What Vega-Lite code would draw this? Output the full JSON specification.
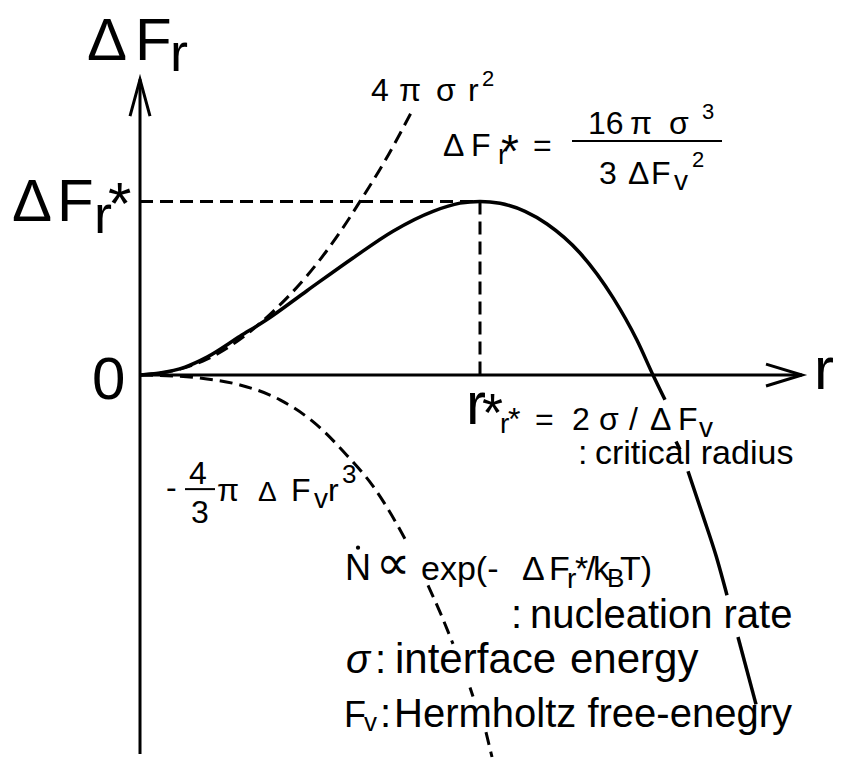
{
  "$schema": "https://vega.github.io/schema/vega-lite/v6.json",
  "width": 856,
  "height": 764,
  "padding": 0,
  "autosize": {"type": "fit", "contains": "padding"},
  "background": "white",
  "config": {"view": {"stroke": null}},
  "encoding": {
    "x": {"field": "x", "type": "quantitative", "axis": null, "scale": {"domain": [-0.4118, 2.1059], "nice": false, "zero": false}},
    "y": {"field": "y", "type": "quantitative", "axis": null, "scale": {"domain": [-2.2057, 2.16], "nice": false, "zero": false}}
  },
  "layer": [
    {
      "description": "axes with open arrow heads",
      "data": {"values": [
        {"g": "x", "o": 1, "x": 0, "y": 0}, {"g": "x", "o": 2, "x": 1.9471, "y": 0},
        {"g": "y", "o": 1, "x": 0, "y": -2.1829}, {"g": "y", "o": 2, "x": 0, "y": 1.7029},
        {"g": "xh", "o": 1, "x": 1.8412, "y": 0.0629}, {"g": "xh", "o": 2, "x": 1.9471, "y": 0}, {"g": "xh", "o": 3, "x": 1.8412, "y": -0.0629},
        {"g": "yh", "o": 1, "x": -0.0294, "y": 1.4914}, {"g": "yh", "o": 2, "x": 0, "y": 1.7029}, {"g": "yh", "o": 3, "x": 0.0294, "y": 1.4914}
      ]},
      "mark": {"type": "line", "color": "black", "strokeWidth": 3, "strokeJoin": "miter"},
      "encoding": {"detail": {"field": "g"}, "order": {"field": "o", "type": "quantitative"}}
    },
    {
      "description": "dashed guides to the barrier top",
      "data": {"values": [
        {"g": "h", "o": 1, "x": 0, "y": 1}, {"g": "h", "o": 2, "x": 1, "y": 1},
        {"g": "v", "o": 1, "x": 1, "y": 1}, {"g": "v", "o": 2, "x": 1, "y": 0}
      ]},
      "mark": {"type": "line", "color": "black", "strokeWidth": 3, "strokeDash": [13, 7]},
      "encoding": {"detail": {"field": "g"}, "order": {"field": "o", "type": "quantitative"}}
    },
    {
      "description": "surface term 4 pi sigma r^2",
      "data": {"values": [
        {"x": 0, "y": 0}, {"x": 0.1176, "y": 0.0343}, {"x": 0.1971, "y": 0.0914},
        {"x": 0.2941, "y": 0.2057}, {"x": 0.3912, "y": 0.3657}, {"x": 0.4912, "y": 0.5714},
        {"x": 0.5882, "y": 0.8229}, {"x": 0.6471, "y": 1.0}, {"x": 0.7206, "y": 1.2343},
        {"x": 0.8029, "y": 1.5314}
      ]},
      "mark": {"type": "line", "color": "black", "strokeWidth": 3, "strokeDash": [13, 7], "interpolate": "monotone"},
      "encoding": {}
    },
    {
      "description": "volume term -4/3 pi dFv r^3",
      "data": {"values": [
        {"s": "a", "x": 0, "y": 0}, {"s": "a", "x": 0.1029, "y": -0.0057}, {"s": "a", "x": 0.1971, "y": -0.0229},
        {"s": "a", "x": 0.2941, "y": -0.0571}, {"s": "a", "x": 0.4118, "y": -0.1429}, {"s": "a", "x": 0.5088, "y": -0.2686},
        {"s": "a", "x": 0.6088, "y": -0.4629}, {"s": "a", "x": 0.6853, "y": -0.64}, {"s": "a", "x": 0.75, "y": -0.84},
        {"s": "a", "x": 0.7853, "y": -0.9657},
        {"s": "b", "x": 0.8471, "y": -1.2114}, {"s": "b", "x": 0.8824, "y": -1.3657}, {"s": "b", "x": 0.9206, "y": -1.5486},
        {"s": "c", "x": 0.9706, "y": -1.8}, {"s": "c", "x": 0.9794, "y": -1.8514},
        {"s": "d", "x": 1.0176, "y": -2.0571}, {"s": "d", "x": 1.0353, "y": -2.2}
      ]},
      "mark": {"type": "line", "color": "black", "strokeWidth": 3, "strokeDash": [13, 7], "interpolate": "monotone"},
      "encoding": {"detail": {"field": "s"}}
    },
    {
      "description": "total free energy of the cluster",
      "data": {"values": [
        {"s": "a", "x": 0, "y": 0}, {"s": "a", "x": 0.0588, "y": 0.0114}, {"s": "a", "x": 0.1324, "y": 0.0457},
        {"s": "a", "x": 0.1971, "y": 0.1029}, {"s": "a", "x": 0.2941, "y": 0.2229}, {"s": "a", "x": 0.3735, "y": 0.32},
        {"s": "a", "x": 0.4912, "y": 0.4857}, {"s": "a", "x": 0.6265, "y": 0.6743}, {"s": "a", "x": 0.7441, "y": 0.8286},
        {"s": "a", "x": 0.8618, "y": 0.9429}, {"s": "a", "x": 0.9412, "y": 0.99}, {"s": "a", "x": 1.0, "y": 1.0},
        {"s": "a", "x": 1.0588, "y": 0.989}, {"s": "a", "x": 1.1324, "y": 0.943}, {"s": "a", "x": 1.1971, "y": 0.87},
        {"s": "a", "x": 1.2941, "y": 0.7029}, {"s": "a", "x": 1.3912, "y": 0.4457}, {"s": "a", "x": 1.4618, "y": 0.2},
        {"s": "a", "x": 1.5088, "y": 0}, {"s": "a", "x": 1.5441, "y": -0.1429},
        {"s": "b", "x": 1.5765, "y": -0.3829}, {"s": "b", "x": 1.5882, "y": -0.4286},
        {"s": "c", "x": 1.6118, "y": -0.5543}, {"s": "c", "x": 1.6559, "y": -0.8114}, {"s": "c", "x": 1.6941, "y": -1.04},
        {"s": "c", "x": 1.7265, "y": -1.2686},
        {"s": "d", "x": 1.7588, "y": -1.5086}, {"s": "d", "x": 1.8118, "y": -1.8971}
      ]},
      "mark": {"type": "line", "color": "black", "strokeWidth": 3.5, "interpolate": "monotone"},
      "encoding": {"detail": {"field": "s"}}
    },
    {
      "description": "fraction bars",
      "data": {"values": [
        {"x": 1.2706, "x2": 1.7118, "y": 1.3486},
        {"x": 0.1324, "x2": 0.2206, "y": -0.6571}
      ]},
      "mark": {"type": "rule", "color": "black", "strokeWidth": 2},
      "encoding": {"x2": {"field": "x2"}}
    },
    {
      "description": "dot of N-dot",
      "data": {"values": [{"x": 0.6412, "y": -0.9943}]},
      "mark": {"type": "point", "shape": "circle", "filled": true, "color": "black", "size": 18, "opacity": 1}
    },
    {
      "data": {"values": [
        {"x": -0.1559, "y": 1.8171, "t": "Δ"}, {"x": -0.0147, "y": 1.8171, "t": "F"},
        {"x": -0.3765, "y": 0.8857, "t": "Δ"}, {"x": -0.2441, "y": 0.8857, "t": "F"},
        {"x": -0.0941, "y": 0.8686, "t": "*"},
        {"x": -0.1412, "y": -0.1371, "t": "0"},
        {"x": 1.9824, "y": -0.08, "t": "r"},
        {"x": 0.9588, "y": -0.28, "t": "r"}
      ]},
      "mark": {"type": "text", "font": "Liberation Sans", "fontSize": 60, "align": "left", "baseline": "alphabetic", "color": "black"},
      "encoding": {"text": {"field": "t"}}
    },
    {
      "data": {"values": [
        {"x": 0.0882, "y": 1.7486, "t": "r"},
        {"x": -0.1353, "y": 0.8171, "t": "r"},
        {"x": 1.0059, "y": -0.32, "t": "*"}
      ]},
      "mark": {"type": "text", "font": "Liberation Sans", "fontSize": 54, "align": "left", "baseline": "alphabetic", "color": "black"},
      "encoding": {"text": {"field": "t"}}
    },
    {
      "data": {"values": [
        {"x": 1.0618, "y": 1.2, "t": "*"}
      ]},
      "mark": {"type": "text", "font": "Liberation Sans", "fontSize": 46, "align": "left", "baseline": "alphabetic", "color": "black"},
      "encoding": {"text": {"field": "t"}}
    },
    {
      "data": {"values": [
        {"x": 0.6941, "y": -1.1771, "t": "∝"}
      ]},
      "mark": {"type": "text", "font": "DejaVu Sans", "fontSize": 48, "align": "left", "baseline": "alphabetic", "color": "black"},
      "encoding": {"text": {"field": "t"}}
    },
    {
      "data": {"values": [
        {"x": 1.0912, "y": -1.4571, "t": ":"}, {"x": 1.1471, "y": -1.4571, "t": "nucleation rate"},
        {"x": 0.6912, "y": -1.7143, "t": ":"},
        {"x": 0.7059, "y": -2.0286, "t": ":"}, {"x": 0.7471, "y": -2.0286, "t": "Hermholtz free-enegry"}
      ]},
      "mark": {"type": "text", "font": "Liberation Sans", "fontSize": 40, "align": "left", "baseline": "alphabetic", "color": "black"},
      "encoding": {"text": {"field": "t"}}
    },
    {
      "data": {"values": [
        {"x": 0.75, "y": -1.7143, "t": "interface"}, {"x": 1.2647, "y": -1.7143, "t": "energy"}
      ]},
      "mark": {"type": "text", "font": "Liberation Sans", "fontSize": 42, "align": "left", "baseline": "alphabetic", "color": "black"},
      "encoding": {"text": {"field": "t"}}
    },
    {
      "data": {"values": [
        {"x": 0.6059, "y": -1.7143, "t": "σ"}
      ]},
      "mark": {"type": "text", "font": "Liberation Sans", "fontSize": 40, "fontStyle": "italic", "align": "left", "baseline": "alphabetic", "color": "black"},
      "encoding": {"text": {"field": "t"}}
    },
    {
      "data": {"values": [
        {"x": 0.6029, "y": -1.1829, "t": "N"},
        {"x": 0.6, "y": -2.0286, "t": "F"}
      ]},
      "mark": {"type": "text", "font": "Liberation Sans", "fontSize": 36, "align": "left", "baseline": "alphabetic", "color": "black"},
      "encoding": {"text": {"field": "t"}}
    },
    {
      "data": {"values": [
        {"x": 0.8265, "y": -1.1829, "t": "exp(-"}, {"x": 1.1235, "y": -1.1829, "t": "Δ"},
        {"x": 1.2029, "y": -1.1829, "t": "F"}, {"x": 1.2794, "y": -1.1829, "t": "*"},
        {"x": 1.3118, "y": -1.1829, "t": "/"}, {"x": 1.3324, "y": -1.1829, "t": "k"},
        {"x": 1.4118, "y": -1.1829, "t": "T)"}
      ]},
      "mark": {"type": "text", "font": "Liberation Sans", "fontSize": 34, "align": "left", "baseline": "alphabetic", "color": "black"},
      "encoding": {"text": {"field": "t"}}
    },
    {
      "data": {"values": [
        {"x": 1.2882, "y": -0.5143, "t": ":"}, {"x": 1.3382, "y": -0.5143, "t": "critical radius"}
      ]},
      "mark": {"type": "text", "font": "Liberation Sans", "fontSize": 34, "align": "left", "baseline": "alphabetic", "color": "black"},
      "encoding": {"text": {"field": "t"}}
    },
    {
      "data": {"values": [
        {"x": 0.6794, "y": 1.5771, "t": "4"}, {"x": 0.7618, "y": 1.5771, "t": "π"},
        {"x": 0.8706, "y": 1.5771, "t": "σ"}, {"x": 0.9647, "y": 1.5771, "t": "r"},
        {"x": 0.8912, "y": 1.2629, "t": "Δ"}, {"x": 0.9735, "y": 1.2629, "t": "F"},
        {"x": 1.1559, "y": 1.2629, "t": "="},
        {"x": 1.3176, "y": 1.3886, "t": "16"}, {"x": 1.4412, "y": 1.3886, "t": "π"}, {"x": 1.5559, "y": 1.3886, "t": "σ"},
        {"x": 1.35, "y": 1.1029, "t": "3"}, {"x": 1.4353, "y": 1.1029, "t": "Δ"}, {"x": 1.5029, "y": 1.1029, "t": "F"},
        {"x": 0.0765, "y": -0.7086, "t": "-"}, {"x": 0.1441, "y": -0.6286, "t": "4"}, {"x": 0.15, "y": -0.8514, "t": "3"},
        {"x": 0.2265, "y": -0.7257, "t": "π"}, {"x": 0.4441, "y": -0.7257, "t": "F"}, {"x": 0.5529, "y": -0.7257, "t": "r"},
        {"x": 1.0824, "y": -0.3143, "t": "*"}, {"x": 1.1618, "y": -0.3143, "t": "="}, {"x": 1.2706, "y": -0.3143, "t": "2"},
        {"x": 1.35, "y": -0.3143, "t": "σ"}, {"x": 1.4382, "y": -0.3143, "t": "/"}, {"x": 1.5, "y": -0.3143, "t": "Δ"},
        {"x": 1.5824, "y": -0.3143, "t": "F"}
      ]},
      "mark": {"type": "text", "font": "Liberation Sans", "fontSize": 32, "align": "left", "baseline": "alphabetic", "color": "black"},
      "encoding": {"text": {"field": "t"}}
    },
    {
      "data": {"values": [
        {"x": 1.0529, "y": 1.2171, "t": "r"}, {"x": 1.5706, "y": 1.0629, "t": "v"},
        {"x": 0.5118, "y": -0.7657, "t": "v"}, {"x": 0.3471, "y": -0.7257, "t": "Δ"},
        {"x": 1.0588, "y": -0.3314, "t": "r"}, {"x": 1.6441, "y": -0.3543, "t": "v"},
        {"x": 1.2559, "y": -1.2286, "t": "r"}
      ]},
      "mark": {"type": "text", "font": "Liberation Sans", "fontSize": 28, "align": "left", "baseline": "alphabetic", "color": "black"},
      "encoding": {"text": {"field": "t"}}
    },
    {
      "data": {"values": [
        {"x": 0.6588, "y": -2.0514, "t": "v"},
        {"x": 0.5941, "y": -0.6229, "t": "3"},
        {"x": 1.3735, "y": -1.2229, "t": "B"}
      ]},
      "mark": {"type": "text", "font": "Liberation Sans", "fontSize": 26, "align": "left", "baseline": "alphabetic", "color": "black"},
      "encoding": {"text": {"field": "t"}}
    },
    {
      "data": {"values": [
        {"x": 1.0059, "y": 1.6629, "t": "2"},
        {"x": 1.6529, "y": 1.4743, "t": "3"},
        {"x": 1.6235, "y": 1.2, "t": "2"}
      ]},
      "mark": {"type": "text", "font": "Liberation Sans", "fontSize": 22, "align": "left", "baseline": "alphabetic", "color": "black"},
      "encoding": {"text": {"field": "t"}}
    }
  ]
}
